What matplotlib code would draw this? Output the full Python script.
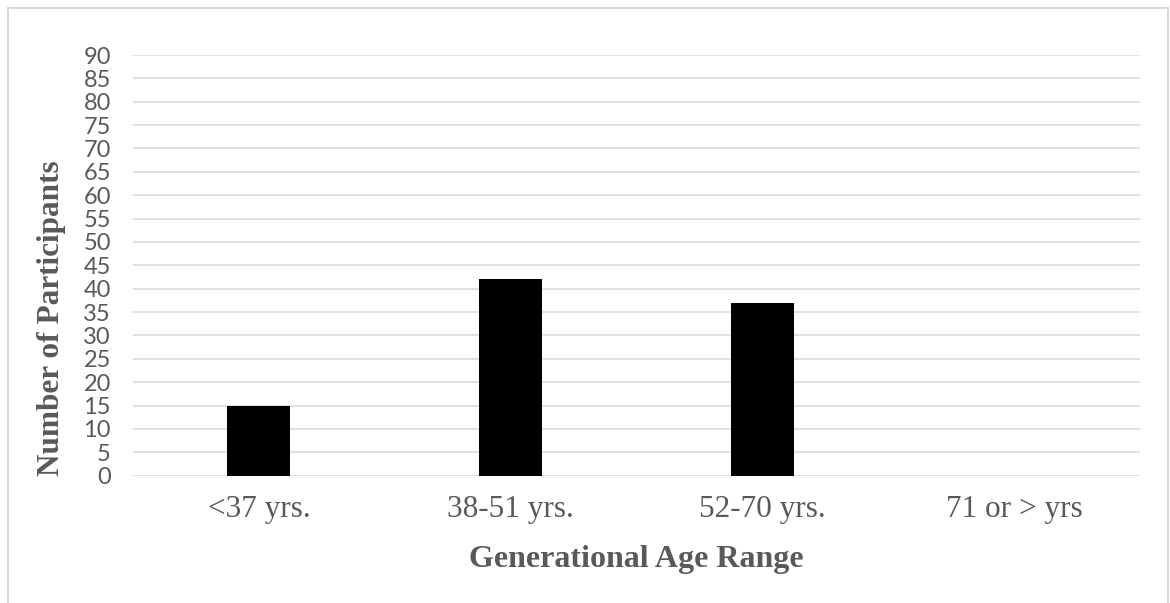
import numpy as np
import matplotlib
matplotlib.use("Agg")
import matplotlib.pyplot as plt
from matplotlib.patches import Rectangle

# data
categories = ['<37 yrs.', '38-51 yrs.', '52-70 yrs.', '71 or > yrs']
participants = [15, 42, 37, 0]
y_ticks = list(range(0, 95, 5))

gray_text = '#595959'
grid_col = '#d9d9d9'

fig = plt.figure(figsize=(11.7, 6.03), dpi=100)
ax = fig.add_axes([133 / 1170, 127.3 / 603, 1007 / 1170, 420.7 / 603])

x = np.arange(len(categories))
ax.bar(x, participants, width=0.25, color='black', zorder=3)

ax.set_xlim(-0.5, len(categories) - 0.5)
ax.set_ylim(0, 90)
ax.set_yticks(y_ticks)
ax.set_xticks(x)
ax.set_xticklabels(categories, fontfamily='Liberation Serif', fontsize=22.5, color=gray_text)
ax.set_yticklabels([str(t) for t in y_ticks], fontfamily='Lato', fontsize=17, color=gray_text)
ax.tick_params(axis='both', length=0)
ax.tick_params(axis='x', pad=14)
ax.tick_params(axis='y', pad=16)

ax.grid(axis='y', color=grid_col, linewidth=1.1, zorder=0)
ax.set_axisbelow(True)
for s in ax.spines.values():
    s.set_visible(False)

ax.set_xlabel('Generational Age Range', fontfamily='Liberation Serif', fontweight='bold',
              fontsize=23, color=gray_text, va='baseline')
ax.xaxis.set_label_coords(0.5, (475.7 - 567) / 420.7)
ax.set_ylabel('Number of Participants', fontfamily='Liberation Serif', fontweight='bold',
              fontsize=22.5, color=gray_text, va='center')
ax.yaxis.set_label_coords((52 - 133) / 1007, (475.7 - 318) / 420.7)

# chart border
fig.patches.append(Rectangle((8 / 1170, -0.1), 1160 / 1170, 1.1 - 8 / 603,
                             transform=fig.transFigure, fill=False,
                             edgecolor=grid_col, linewidth=1.5))

fig.savefig('out.png', dpi=100)
